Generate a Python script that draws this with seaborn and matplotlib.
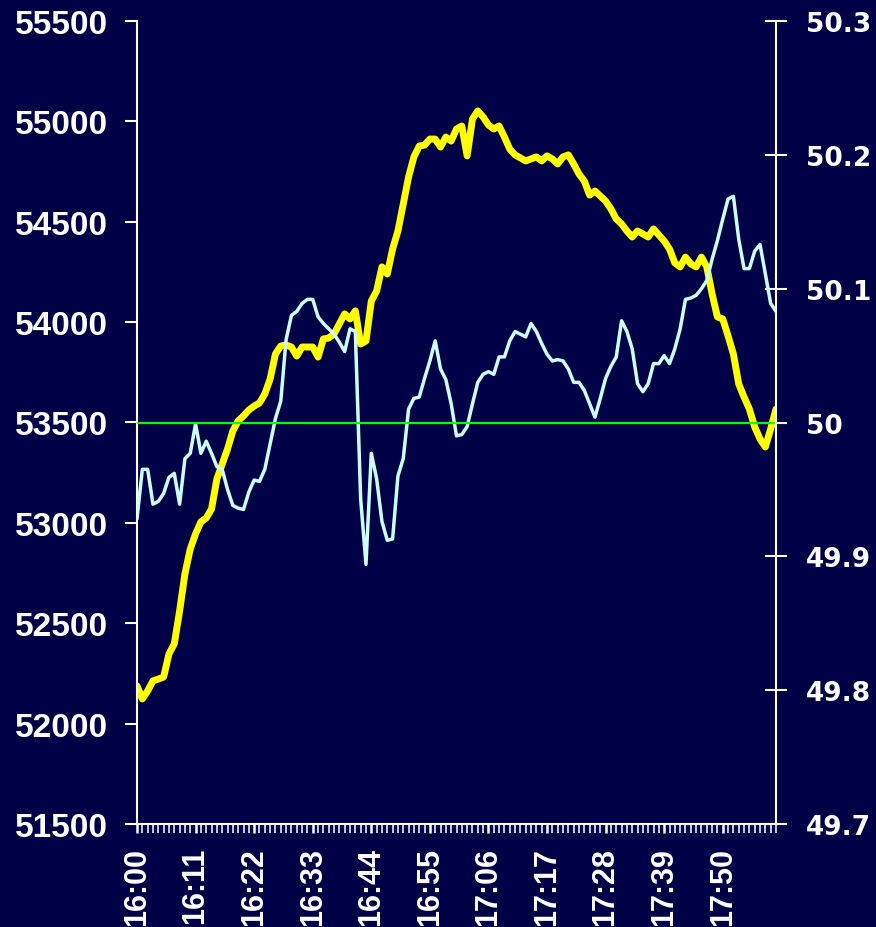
import numpy as np
import pandas as pd
import matplotlib.pyplot as plt
from matplotlib.ticker import FuncFormatter
import seaborn as sns

# minute labels 16:00 .. 18:00
times = pd.date_range("2000-01-01 16:00", periods=121, freq="min").strftime("%H:%M").tolist()

# index level (left axis)
index_vals = [
    52188, 52123, 52163, 52213, 52222, 52232, 52347, 52397, 52561, 52746,
    52870, 52945, 53005, 53024, 53069, 53219, 53293, 53368, 53458, 53508,
    53533, 53562, 53582, 53597, 53642, 53717, 53841, 53881, 53886, 53876,
    53831, 53876, 53876, 53876, 53826, 53916, 53921, 53941, 53991, 54041,
    54016, 54056, 53891, 53906, 54105, 54155, 54275, 54240, 54364, 54454,
    54588, 54723, 54823, 54877, 54882, 54912, 54912, 54872, 54922, 54902,
    54962, 54977, 54828, 55012, 55052, 55022, 54982, 54962, 54977, 54922,
    54862, 54833, 54818, 54803, 54813, 54823, 54803, 54828, 54813, 54788,
    54823, 54833, 54788, 54738, 54703, 54633, 54653, 54628, 54603, 54564,
    54514, 54489, 54454, 54424, 54454, 54439, 54424, 54464, 54434, 54404,
    54364, 54295, 54275, 54324, 54290, 54275, 54324, 54275, 54140, 54026,
    54016, 53931, 53841, 53692, 53627, 53567, 53478, 53418, 53378, 53468,
    53567,
]

# second series (right axis)
rate_vals = [
    49.928, 49.965, 49.965, 49.939, 49.941, 49.947, 49.959, 49.962, 49.939, 49.973,
    49.977, 49.999, 49.977, 49.986, 49.977, 49.967, 49.965, 49.950, 49.938, 49.936,
    49.935, 49.948, 49.957, 49.956, 49.965, 49.984, 50.003, 50.016, 50.062, 50.080,
    50.083, 50.089, 50.092, 50.092, 50.079, 50.074, 50.070, 50.066, 50.060, 50.053,
    50.070, 50.068, 49.943, 49.894, 49.977, 49.958, 49.926, 49.912, 49.913, 49.960,
    49.973, 50.010, 50.018, 50.019, 50.033, 50.046, 50.061, 50.040, 50.032, 50.014,
    49.990, 49.991, 49.997, 50.014, 50.030, 50.036, 50.038, 50.036, 50.049, 50.049,
    50.061, 50.068, 50.066, 50.064, 50.074, 50.068, 50.059, 50.051, 50.046, 50.047,
    50.046, 50.040, 50.030, 50.030, 50.024, 50.014, 50.004, 50.018, 50.033, 50.042,
    50.049, 50.076, 50.068, 50.055, 50.029, 50.023, 50.029, 50.044, 50.044, 50.050,
    50.044, 50.055, 50.070, 50.092, 50.093, 50.095, 50.100, 50.106, 50.122, 50.136,
    50.152, 50.167, 50.169, 50.137, 50.115, 50.115, 50.128, 50.133, 50.111, 50.089,
    50.083,
]

ref_level = 50.0
left_ticks = list(range(51500, 55501, 500))
right_ticks = [49.7, 49.8, 49.9, 50.0, 50.1, 50.2, 50.3]

bg = "#000046"
df = pd.DataFrame({"t": range(len(times)), "index": index_vals, "rate": rate_vals})

sns.set_style("dark", {"axes.facecolor": bg, "figure.facecolor": bg,
                       "axes.edgecolor": "white", "axes.grid": False})
plt.rcParams["font.family"] = ["Liberation Sans", "DejaVu Sans"]

fig, ax = plt.subplots(figsize=(8.76, 9.28), dpi=100)
fig.subplots_adjust(left=137/876, right=776/876, bottom=1-825/928, top=1-22/928)

sns.lineplot(data=df, x="t", y="index", color="#FFFF00", linewidth=5.0, ax=ax, legend=False)
ax2 = ax.twinx()
sns.lineplot(data=df, x="t", y="rate", color="#CCFFFF", linewidth=2.5, ax=ax2, legend=False)
ax2.axhline(ref_level, color="#00FF00", linewidth=1.6)

ax.set_xlim(0, len(times) - 1)
ax.set_ylim(51500, 55500)
ax2.set_ylim(49.7, 50.3)
ax.set_yticks(left_ticks)
ax2.set_yticks(right_ticks)
ax2.yaxis.set_major_formatter(FuncFormatter(lambda v, p: f"{v:g}"))

major = list(range(0, len(times), 11))
ax.set_xticks(major)
ax.set_xticklabels([times[i] for i in major], rotation=90)
ax.set_xticks(range(len(times)), minor=True)

for a in (ax, ax2):
    a.set_xlabel("")
    a.set_ylabel("")
    a.grid(False)
    for s in a.spines.values():
        s.set_color("white")
        s.set_linewidth(1.5)

ax.spines["top"].set_visible(False)
ax.spines["right"].set_visible(False)
for s in ("top", "left", "bottom"):
    ax2.spines[s].set_visible(False)

ax.tick_params(axis="x", which="major", direction="out", length=6.5, width=1.8,
               color="white", bottom=True, pad=10)
ax.tick_params(axis="x", which="minor", direction="out", length=6.5, width=1.1,
               color="white", bottom=True)
ax.tick_params(axis="y", direction="out", length=8.6, width=1.5, color="white",
               left=True, pad=12)
ax2.tick_params(axis="y", direction="inout", length=16.5, width=1.5, color="white",
                right=True, pad=13)

for lbl in ax.get_xticklabels():
    lbl.set_color("white")
    lbl.set_fontweight("bold")
    lbl.set_fontsize(22)
for lbl in ax.get_yticklabels():
    lbl.set_color("white")
    lbl.set_fontweight("bold")
    lbl.set_fontsize(24)
for lbl in ax2.get_yticklabels():
    lbl.set_color("white")
    lbl.set_fontweight("bold")
    lbl.set_fontsize(19)
    lbl.set_family("DejaVu Sans")

fig.savefig("out.png", dpi=100, facecolor=bg)
